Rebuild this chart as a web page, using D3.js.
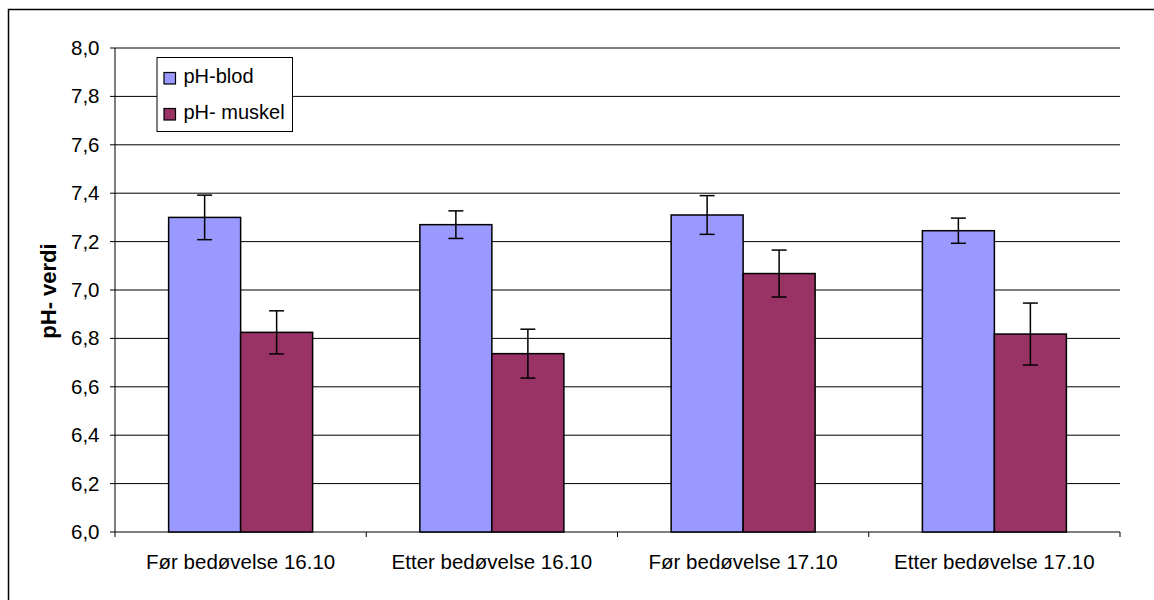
<!DOCTYPE html>
<html><head><meta charset="utf-8">
<script src="https://cdn.jsdelivr.net/npm/d3@7"></script>
<style>body{margin:0;background:#fff;} text{font-family:"Liberation Sans",Arial,sans-serif;}</style>
</head><body>
<svg id="c" width="1154" height="600"></svg>
<script>
const categories = ["Før bedøvelse 16.10","Etter bedøvelse 16.10","Før bedøvelse 17.10","Etter bedøvelse 17.10"];
const seriesNames = ["pH-blod","pH- muskel"];
const blodValues = [7.30, 7.27, 7.31, 7.245];
const blodErrors = [0.092, 0.057, 0.08, 0.052];
const muskelValues = [6.825, 6.737, 7.068, 6.818];
const muskelErrors = [0.089, 0.101, 0.097, 0.128];
const yTicks = [6.0,6.2,6.4,6.6,6.8,7.0,7.2,7.4,7.6,7.8,8.0];
const colors = ["#9999FF","#993366"];

const svg = d3.select("#c");
const L=115, R=1120, T=48, B=532;
svg.append("rect").attr("x",8.5).attr("y",9.5).attr("width",1200).attr("height",700)
  .attr("fill","none").attr("stroke","#000").attr("stroke-width",1.5);

const x = d3.scaleBand().domain(categories).range([L,R]);
const y = d3.scaleLinear().domain([6,8]).range([B,T]);
const x1 = d3.scaleBand().domain(seriesNames).range([0,144]);

// gridlines
svg.append("g").selectAll("line").data(yTicks).join("line")
  .attr("x1",L-5).attr("x2",R).attr("y1",d=>y(d)).attr("y2",d=>y(d))
  .attr("stroke","#000").attr("stroke-width",1);

// y axis
svg.append("line").attr("x1",L).attr("x2",L).attr("y1",T).attr("y2",B).attr("stroke","#000");
svg.append("g").selectAll("text").data(yTicks).join("text")
  .attr("x",99.5).attr("y",d=>y(d)+7).attr("text-anchor","end")
  .attr("font-size",20.5).text(d=>d.toFixed(1).replace(".",","));

// x ticks
const xt = categories.map(c=>x(c)).concat([R]);
svg.append("g").selectAll("line").data(xt).join("line")
  .attr("x1",d=>d).attr("x2",d=>d).attr("y1",B).attr("y2",B+5).attr("stroke","#000");
svg.append("g").selectAll("text").data(categories).join("text")
  .attr("x",d=>x(d)+x.bandwidth()/2).attr("y",568.5).attr("text-anchor","middle")
  .attr("font-size",20.5).text(d=>d);

// bars
const data = [];
categories.forEach((c,i)=>{
  data.push({c, s:seriesNames[0], v:blodValues[i], e:blodErrors[i], col:colors[0]});
  data.push({c, s:seriesNames[1], v:muskelValues[i], e:muskelErrors[i], col:colors[1]});
});
const gx = d => x(d.c) + x.bandwidth()/2 - 72 + x1(d.s);
svg.append("g").selectAll("rect").data(data).join("rect")
  .attr("x",gx).attr("width",x1.bandwidth()).attr("y",d=>y(d.v)).attr("height",d=>B-y(d.v))
  .attr("fill",d=>d.col).attr("stroke","#000").attr("stroke-width",1.5);

// error bars
const eg = svg.append("g").attr("stroke","#000").attr("stroke-width",1.5);
data.forEach(d=>{
  const cx = gx(d)+x1.bandwidth()/2;
  eg.append("line").attr("x1",cx).attr("x2",cx).attr("y1",y(d.v+d.e)).attr("y2",y(d.v-d.e));
  eg.append("line").attr("x1",cx-7.5).attr("x2",cx+7.5).attr("y1",y(d.v+d.e)).attr("y2",y(d.v+d.e));
  eg.append("line").attr("x1",cx-7.5).attr("x2",cx+7.5).attr("y1",y(d.v-d.e)).attr("y2",y(d.v-d.e));
});

// y title
svg.append("text").attr("transform","translate(56,291) rotate(-90)").attr("text-anchor","middle")
  .attr("font-size",22).attr("font-weight","bold").text("pH- verdi");

// legend
const lg = svg.append("g");
lg.append("rect").attr("x",157).attr("y",57.5).attr("width",135.5).attr("height",74)
  .attr("fill","#fff").attr("stroke","#000").attr("stroke-width",1);
seriesNames.forEach((s,i)=>{
  const yy = 72.5 + i*36;
  lg.append("rect").attr("x",164).attr("y",yy).attr("width",11.5).attr("height",11.5)
    .attr("fill",colors[i]).attr("stroke","#000").attr("stroke-width",1.2);
  lg.append("text").attr("x",183.5).attr("y",yy+10.5).attr("font-size",20).text(s);
});
</script>
</body></html>
